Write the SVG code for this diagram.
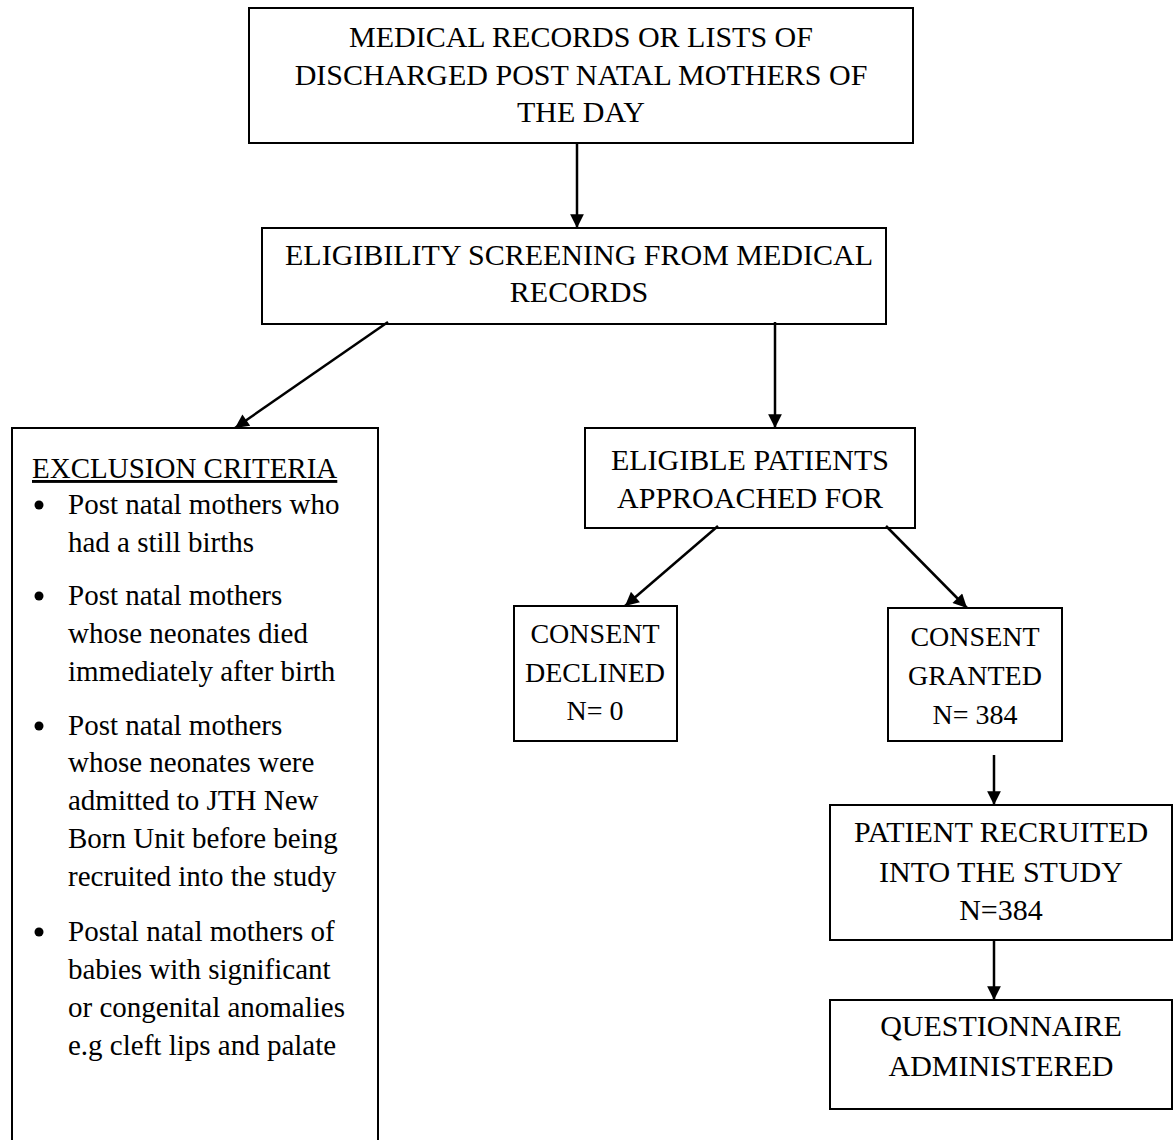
<svg xmlns="http://www.w3.org/2000/svg" width="1175" height="1140" viewBox="0 0 1175 1140">
<style>
.box{fill:#fff;stroke:#000;stroke-width:2}
.t{font-family:"Liberation Serif","Times New Roman",serif;font-size:29px;fill:#000}
.c{text-anchor:middle;font-size:30px}
.s{font-size:28px}
.con{stroke:#000;stroke-width:2.5;fill:none;marker-end:url(#ah)}
</style>
<defs>
<marker id="ah" viewBox="0 0 10 10" refX="10" refY="5" markerWidth="6" markerHeight="5.5" markerUnits="strokeWidth" orient="auto">
<path d="M0,0 L10,5 L0,10 z" fill="#000"/>
</marker>
</defs>
<rect width="1175" height="1140" fill="#fff"/>
<g id="n1">
<rect class="box" x="249" y="8" width="664" height="135"/>
<text class="t c" x="581" y="47">MEDICAL RECORDS OR LISTS OF</text>
<text class="t c" x="581" y="85">DISCHARGED POST NATAL MOTHERS OF</text>
<text class="t c" x="581" y="122">THE DAY</text>
</g>
<g id="n2">
<rect class="box" x="262" y="228" width="624" height="96"/>
<text class="t c" x="579" y="265">ELIGIBILITY SCREENING FROM MEDICAL</text>
<text class="t c" x="579" y="302">RECORDS</text>
</g>
<g id="n3">
<path class="box" d="M12,1145 L12,428 L378,428 L378,1145"/>
<text class="t" x="32" y="478" text-decoration="underline">EXCLUSION CRITERIA</text>
<circle cx="39" cy="505" r="4.5"/>
<text class="t" x="68" y="514">Post natal mothers who</text>
<text class="t" x="68" y="552">had a still births</text>
<circle cx="39" cy="596" r="4.5"/>
<text class="t" x="68" y="605">Post natal mothers</text>
<text class="t" x="68" y="643">whose neonates died</text>
<text class="t" x="68" y="681">immediately after birth</text>
<circle cx="39" cy="726" r="4.5"/>
<text class="t" x="68" y="735">Post natal mothers</text>
<text class="t" x="68" y="772">whose neonates were</text>
<text class="t" x="68" y="810">admitted to JTH New</text>
<text class="t" x="68" y="848">Born Unit before being</text>
<text class="t" x="68" y="886">recruited into the study</text>
<circle cx="39" cy="932" r="4.5"/>
<text class="t" x="68" y="941">Postal natal mothers of</text>
<text class="t" x="68" y="979">babies with significant</text>
<text class="t" x="68" y="1017">or congenital anomalies</text>
<text class="t" x="68" y="1055">e.g cleft lips and palate</text>
</g>
<g id="n4">
<rect class="box" x="585" y="428" width="330" height="100"/>
<text class="t c" x="750" y="470">ELIGIBLE PATIENTS</text>
<text class="t c" x="750" y="508">APPROACHED FOR</text>
</g>
<g id="n5">
<rect class="box" x="514" y="606" width="163" height="135"/>
<text class="t c s" x="595" y="643">CONSENT</text>
<text class="t c s" x="595" y="682">DECLINED</text>
<text class="t c s" x="595" y="720">N= 0</text>
</g>
<g id="n6">
<rect class="box" x="888" y="608" width="174" height="133"/>
<text class="t c s" x="975" y="646">CONSENT</text>
<text class="t c s" x="975" y="685">GRANTED</text>
<text class="t c s" x="975" y="724">N= 384</text>
</g>
<g id="n7">
<rect class="box" x="830" y="805" width="342" height="135"/>
<text class="t c" x="1001" y="842">PATIENT RECRUITED</text>
<text class="t c" x="1001" y="882">INTO THE STUDY</text>
<text class="t c" x="1001" y="920">N=384</text>
</g>
<g id="n8">
<rect class="box" x="830" y="1000" width="342" height="109"/>
<text class="t c" x="1001" y="1036">QUESTIONNAIRE</text>
<text class="t c" x="1001" y="1076">ADMINISTERED</text>
</g>
<g id="connectors">
<line class="con" x1="577" y1="143" x2="577" y2="228"/>
<line class="con" x1="388" y1="322" x2="235" y2="428"/>
<line class="con" x1="775" y1="322" x2="775" y2="428"/>
<line class="con" x1="718" y1="526" x2="625" y2="606"/>
<line class="con" x1="886" y1="526" x2="967" y2="608"/>
<line class="con" x1="994" y1="755" x2="994" y2="805"/>
<line class="con" x1="994" y1="940" x2="994" y2="1000"/>
</g>
</svg>
